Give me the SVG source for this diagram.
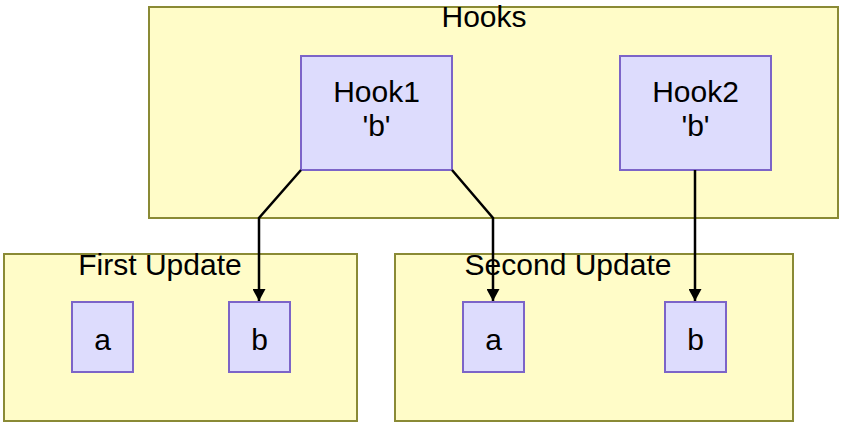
<svg xmlns="http://www.w3.org/2000/svg" width="843" height="427" viewBox="0 0 843 427">
<defs>
<style>
.cluster{fill:#fffcc8;stroke:#8a8a35;stroke-width:2}
.node{fill:#dddcfd;stroke:#7c64c8;stroke-width:2}
text{font-family:"Liberation Sans",Arial,sans-serif;font-size:30px;fill:#000;text-anchor:middle}
.edge{fill:none;stroke:#000;stroke-width:2.5}
</style>
<marker id="arrow" viewBox="0 0 12 13" refX="12" refY="6.5" markerWidth="12" markerHeight="13" markerUnits="userSpaceOnUse" orient="auto">
<path d="M0,0 L12,6.5 L0,13 Z" fill="#000"/>
</marker>
</defs>
<rect width="843" height="427" fill="#fff"/>
<g id="cluster-hooks">
<rect class="cluster" x="149" y="7" width="689" height="211"/>
<text x="484" y="27">Hooks</text>
</g>
<g id="cluster-first">
<rect class="cluster" x="4" y="254" width="353" height="167"/>
<text x="160" y="275">First Update</text>
</g>
<g id="cluster-second">
<rect class="cluster" x="395" y="254" width="398" height="167"/>
<text x="568" y="275">Second Update</text>
</g>
<g id="hook1">
<rect class="node" x="301" y="56" width="151" height="114"/>
<text x="376.5" y="102">Hook1</text>
<text x="376.5" y="136">'b'</text>
</g>
<g id="hook2">
<rect class="node" x="620" y="56" width="151" height="114"/>
<text x="695.5" y="102">Hook2</text>
<text x="695.5" y="136">'b'</text>
</g>
<g id="first-a">
<rect class="node" x="72" y="302" width="61" height="70"/>
<text x="102.5" y="350">a</text>
</g>
<g id="first-b">
<rect class="node" x="229" y="302" width="61" height="70"/>
<text x="259.5" y="350">b</text>
</g>
<g id="second-a">
<rect class="node" x="463" y="302" width="61" height="70"/>
<text x="493.5" y="350">a</text>
</g>
<g id="second-b">
<rect class="node" x="665" y="302" width="61" height="70"/>
<text x="695.5" y="350">b</text>
</g>
<g id="connectors">
<path class="edge" d="M301,170 L259,218 L259,301" marker-end="url(#arrow)"/>
<path class="edge" d="M452,170 L493,218 L493,301" marker-end="url(#arrow)"/>
<path class="edge" d="M695,170 L695,301" marker-end="url(#arrow)"/>
</g>
</svg>
